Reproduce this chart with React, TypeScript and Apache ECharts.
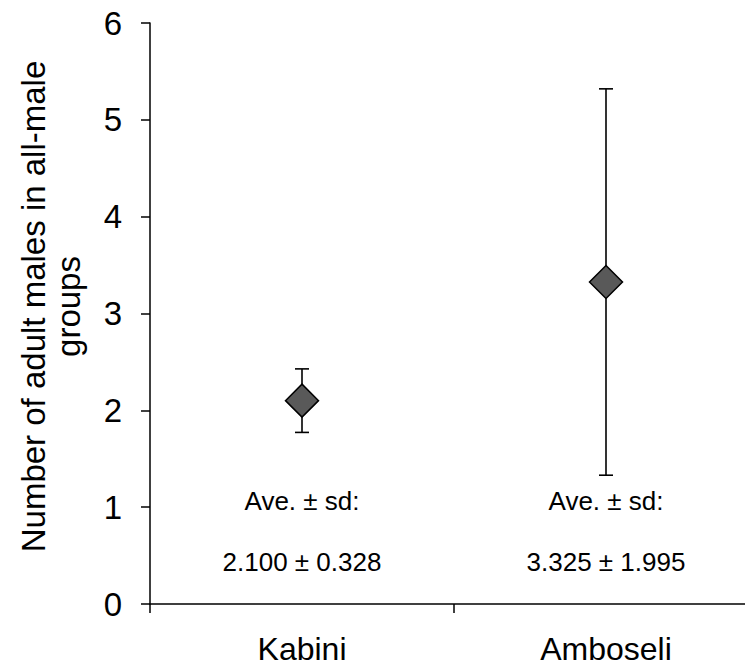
import React, { useEffect, useRef } from "react";
import * as echarts from "echarts";

// Study sites and group-size summary (mean ± standard deviation)
const sites = ["Kabini", "Amboseli"];
const means = [2.1, 3.325];
const sds = [0.328, 1.995];
const yTicks = [0, 1, 2, 3, 4, 5, 6];
const yAxisTitle = "Number of adult males in all-male\ngroups";

const FONT = '"Liberation Sans", Arial, Helvetica, sans-serif';

export default function App() {
  const ref = useRef<HTMLDivElement>(null);

  useEffect(() => {
    if (!ref.current) return;
    const chart = echarts.init(ref.current, undefined, { renderer: "svg" });

    const errorData = sites.map((_, i) => [i, means[i] - sds[i], means[i] + sds[i]]);
    const meanData = sites.map((_, i) => [i, means[i]]);
    // summary text sits in the lower part of the plot, under each site
    const annotationLevel = 0.75;
    const annotationData = sites.map((_, i) => [i, annotationLevel]);

    chart.setOption({
      animation: false,
      backgroundColor: "#ffffff",
      textStyle: { fontFamily: FONT },
      grid: {
        left: 150,
        right: -13,
        top: 23,
        bottom: 65,
        containLabel: false,
        outerBoundsMode: "none",
      },
      xAxis: {
        type: "category",
        data: sites,
        boundaryGap: true,
        axisLine: { lineStyle: { color: "#000", width: 1.5 } },
        axisTick: { show: true, length: 9, inside: false, lineStyle: { color: "#000", width: 1.5 } },
        axisLabel: { color: "#000", fontSize: 32, fontFamily: FONT, margin: 30, lineHeight: 30 },
        splitLine: { show: false },
      },
      yAxis: {
        type: "value",
        min: yTicks[0],
        max: yTicks[yTicks.length - 1],
        interval: 1,
        name: yAxisTitle,
        nameLocation: "middle",
        nameRotate: 90,
        nameGap: 64,
        nameTextStyle: {
          color: "#000",
          fontSize: 33,
          fontFamily: FONT,
          lineHeight: 35,
          align: "center",
          padding: [0, 0, 0, 14],
        },
        axisLine: { show: true, lineStyle: { color: "#000", width: 1.5 } },
        axisTick: { show: true, length: 9, inside: false, lineStyle: { color: "#000", width: 1.5 } },
        axisLabel: { color: "#000", fontSize: 33, fontFamily: FONT, margin: 28 },
        splitLine: { show: false },
      },
      series: [
        {
          type: "custom",
          name: "sd",
          z: 2,
          data: errorData,
          renderItem: (params: any, api: any) => {
            const x = api.value(0);
            const lo = api.coord([x, api.value(1)]);
            const hi = api.coord([x, api.value(2)]);
            const capHalf = 7;
            const style = { stroke: "#000", lineWidth: 1.6, fill: "none" };
            return {
              type: "group",
              children: [
                { type: "line", shape: { x1: lo[0], y1: lo[1], x2: hi[0], y2: hi[1] }, style },
                { type: "line", shape: { x1: hi[0] - capHalf, y1: hi[1], x2: hi[0] + capHalf, y2: hi[1] }, style },
                { type: "line", shape: { x1: lo[0] - capHalf, y1: lo[1], x2: lo[0] + capHalf, y2: lo[1] }, style },
              ],
            };
          },
        },
        {
          type: "scatter",
          name: "mean",
          z: 3,
          symbol: "diamond",
          symbolSize: 33,
          data: meanData,
          itemStyle: { color: "#595959", borderColor: "#000", borderWidth: 1.5, opacity: 1 },
        },
        {
          type: "scatter",
          name: "summary",
          z: 4,
          symbolSize: 0,
          silent: true,
          data: annotationData,
          itemStyle: { color: "transparent", opacity: 1 },
          label: {
            show: true,
            position: "inside",
            color: "#000",
            opacity: 1,
            fontSize: 26,
            fontFamily: FONT,
            lineHeight: 30.5,
            formatter: (p: any) => {
              const i = p.dataIndex;
              return `Ave. ± sd:\n\n${means[i].toFixed(3)} ± ${sds[i].toFixed(3)}`;
            },
          },
        },
      ],
    });

    return () => chart.dispose();
  }, []);

  return (
    <div
      ref={ref}
      style={{ position: "fixed", left: 0, top: 0, width: 745, height: 669, background: "#fff" }}
    />
  );
}
